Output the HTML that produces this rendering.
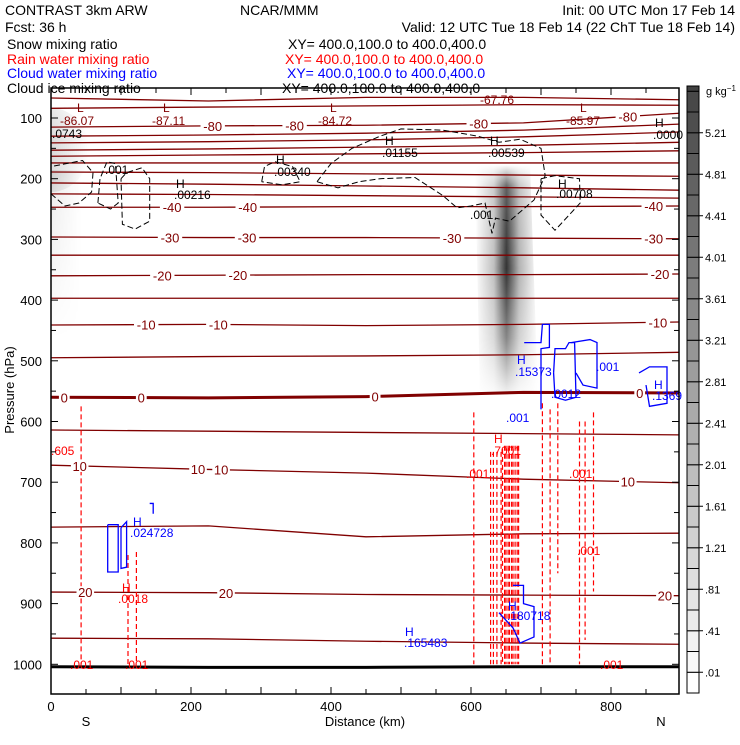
<!DOCTYPE html>
<html><head><meta charset="utf-8"><style>
body{margin:0;background:#fff;}
svg text{font-family:"Liberation Sans",sans-serif;}
</style></head><body>
<svg id="chart" width="740" height="740" viewBox="0 0 740 740" xmlns="http://www.w3.org/2000/svg">
<defs>
<linearGradient id="plumeH" x1="0" x2="1" y1="0" y2="0">
<stop offset="0" stop-color="#000" stop-opacity="0"/>
<stop offset="0.3" stop-color="#000" stop-opacity="0.25"/>
<stop offset="0.5" stop-color="#000" stop-opacity="0.8"/>
<stop offset="0.7" stop-color="#000" stop-opacity="0.3"/>
<stop offset="1" stop-color="#000" stop-opacity="0"/>
</linearGradient>
<linearGradient id="plumeV" x1="0" x2="0" y1="0" y2="1">
<stop offset="0" stop-color="#fff" stop-opacity="0"/>
<stop offset="0.1" stop-color="#fff" stop-opacity="0.8"/>
<stop offset="0.45" stop-color="#fff" stop-opacity="1"/>
<stop offset="0.75" stop-color="#fff" stop-opacity="0.6"/>
<stop offset="1" stop-color="#fff" stop-opacity="0.05"/>
</linearGradient>
<mask id="plumeMask"><rect x="0" y="165" width="740" height="230" fill="url(#plumeV)"/></mask>
<radialGradient id="leftBlob" cx="0" cy="0.5" r="1">
<stop offset="0" stop-color="#000" stop-opacity="0.6"/>
<stop offset="0.5" stop-color="#000" stop-opacity="0.15"/>
<stop offset="1" stop-color="#000" stop-opacity="0"/>
</radialGradient>
<linearGradient id="leftTail" x1="0" x2="1"><stop offset="0" stop-color="#000" stop-opacity="0.08"/><stop offset="1" stop-color="#000" stop-opacity="0"/></linearGradient>
<linearGradient id="leftTailV" x1="0" x2="0" y1="0" y2="1"><stop offset="0" stop-color="#fff" stop-opacity="1"/><stop offset="1" stop-color="#fff" stop-opacity="0"/></linearGradient>
<mask id="tailMask"><rect x="51" y="170" width="30" height="170" fill="url(#leftTailV)"/></mask>
<clipPath id="plotClip"><rect x="51" y="88" width="628" height="606"/></clipPath>
</defs>
<g id="header" font-size="14">
<text x="5" y="15">CONTRAST  3km ARW</text>
<text x="240" y="15">NCAR/MMM</text>
<text x="735" y="15" text-anchor="end">Init: 00 UTC Mon 17 Feb 14</text>
<text x="5" y="32">Fcst:   36 h</text>
<text x="735" y="32" text-anchor="end">Valid: 12 UTC Tue 18 Feb 14 (22 ChT Tue 18 Feb 14)</text>
<text x="7" y="49">Snow mixing ratio</text>
<text x="288" y="49">XY= 400.0,100.0 to 400.0,400.0</text>
<text x="7" y="64" fill="#ff0000">Rain water mixing ratio</text>
<text x="285" y="64" fill="#ff0000">XY= 400.0,100.0 to 400.0,400.0</text>
<text x="7" y="78" fill="#0000ff">Cloud water mixing ratio</text>
<text x="287" y="78" fill="#0000ff">XY= 400.0,100.0 to 400.0,400.0</text>
<text x="7" y="93">Cloud ice mixing ratio</text>
<text x="282" y="93">XY= 400.0,100.0 to 400.0,400.0</text>
</g>
<g id="shade" clip-path="url(#plotClip)">
<g mask="url(#plumeMask)"><polygon points="475,165 530,165 538,395 480,395" fill="url(#plumeH)"/></g>
<ellipse cx="51" cy="150" rx="38" ry="42" fill="url(#leftBlob)"/>
<g mask="url(#tailMask)"><rect x="51" y="170" width="30" height="170" fill="url(#leftTail)"/></g>
</g>
<g id="iso" clip-path="url(#plotClip)"></g>
<g id="cont" clip-path="url(#plotClip)"></g>
<g id="labels" font-size="12"></g>
<rect x="51" y="88" width="628" height="606" fill="none" stroke="#000" stroke-width="1.5"/>
<g id="axes" font-size="13"></g>
<g id="cbar"></g>
</svg>
<script>
// ---- data ----
const nodesKm = [0, 225, 450, 675, 900];
const isoLevels = ['a','b','c','d','e','f','g','h','i','j','k','-40','-30','y','-20','z','-10','w','0','5','10','15','20','25'];
const isoP = [
[67,72,66,66,70],[84,82,80,78,79],[115,113,112,108,92],[130,128,125,120,110],[141,139,136,131,123],
[153,151,148,145,140],[163,161,159,157,154],[174,174,174,174,174],[189,190,192,194,196],[207,209,212,215,219],
[225,226,228,230,232],[247,247,246,246,245],
[296,297,297,298,299],[326,326,326,326,326],[360,359,358,358,357],[397,397,397,397,397],
[441,440,442,440,436],[495,493,492,490,486],
[560,561,559,552,553],[614,616,618,620,622],[672,679,685,695,701],[774,772,790,785,784],[881,882,885,886,887],[957,958,962,965,967]];
const surfP = [1004, 1005, 1005, 1004, 1004];
const isoLabelText = ['-80','-80','-80','-80','-40','-40','-40','-30','-30','-30','-30','-20','-20','-20','-10','-10','-10','0','0','0','0','10','10','10','10','20','20','20'];
const isoLabelLine = [2,2,2,2,11,11,11,12,12,12,12,14,14,14,16,16,16,18,18,18,18,20,20,20,20,22,22,22];
const isoLabelKm =   [231,348,611,824,173,281,861,170,280,573,861,159,267,870,136,239,867,19,129,463,841,41,210,243,824,49,250,877];
const rainSegKm = [43,110,122,604,628,632,637,643,645,648,650,653,655,658,660,663,666,668,702,713,724,755,763,775];
const rainSegTop = [575,820,815,585,650,650,650,650,645,640,640,640,640,640,640,640,640,640,570,580,570,600,600,585];
const rainSegBot = [1000,1000,1000,1000,1000,1000,1000,1000,1000,1000,1000,1000,1000,1000,1000,1000,1000,1000,1000,1000,850,1000,960,880];
const cbarLabels = ['.01','.41','.81','1.21','1.61','2.01','2.41','2.81','3.21','3.61','4.01','4.41','4.81','5.21'];
const cbarValues = [0.01,0.21,0.41,0.61,0.81,1.01,1.21,1.41,1.61,1.81,2.01,2.21,2.41,2.61,2.81,3.01,3.21,3.41,3.61,3.81,4.01,4.21,4.41,4.61,4.81,5.01,5.21,5.41,5.61,5.81];
const xTicks = [0,200,400,600,800];
const pTicks = [100,200,300,400,500,600,700,800,900,1000];
// ---- axes functions ----
const X = km => 51 + km * 0.7;
const Y = p => 118 + (p - 100) * 0.607;
const NS = 'http://www.w3.org/2000/svg';
function mk(tag, attrs, parent) { const e = document.createElementNS(NS, tag); for (const k in attrs) e.setAttribute(k, attrs[k]); parent.appendChild(e); return e; }
function interp(arr, km) { for (let i = 0; i < nodesKm.length - 1; i++) { if (km <= nodesKm[i+1]) { const t = (km - nodesKm[i]) / (nodesKm[i+1] - nodesKm[i]); return arr[i] + t * (arr[i+1] - arr[i]); } } return arr[arr.length-1]; }
const iso = document.getElementById('iso');
isoP.forEach((row, i) => {
  const pts = nodesKm.map((k, j) => X(k) + ',' + Y(row[j])).join(' ');
  const l = mk('polyline', {points: pts, fill: 'none', stroke: '#800000', 'stroke-width': isoLevels[i] === '0' ? 3 : 1.3}, iso);
  
  
});
const surf = mk('polyline', {points: nodesKm.map((k, j) => X(k) + ',' + Y(surfP[j])).join(' '), fill: 'none', stroke: '#000', 'stroke-width': 3}, iso);


const labels = document.getElementById('labels');
isoLabelText.forEach((t, i) => {
  const x = X(isoLabelKm[i]), y = Y(interp(isoP[isoLabelLine[i]], isoLabelKm[i]));
  const w = t.length * 6.8;
  const bg = mk('rect', {x: x - w/2 - 2, y: y - 6, width: w + 4, height: 12, fill: '#fff'}, labels);
  
  
  const tx = mk('text', {x: x, y: y + 5, 'text-anchor': 'middle', fill: '#800000', 'font-size': 13}, labels);
  tx.textContent = t;
  
  
});
const cont = document.getElementById('cont');
rainSegKm.forEach((k, i) => {
  const l = mk('line', {x1: X(k), x2: X(k), y1: Y(rainSegTop[i]), y2: Y(rainSegBot[i]), stroke: '#ff0000', 'stroke-width': 1.2, 'stroke-dasharray': '5,3'}, cont);
  
  
});
const icePaths = [
 [[67,240],[70,200],[80,172],[92,175],[96,240],[85,250],[67,240]],
 [[100,200],[108,190],[130,182],[141,200],[141,270],[120,283],[102,275],[100,200]],
 [[301,205],[305,180],[320,172],[345,180],[356,205],[330,210],[301,205]],
 [[380,205],[400,175],[430,150],[470,130],[500,118],[560,120],[610,130],[640,140],[670,135],[700,150],[706,195],[690,235],[655,270],[635,265],[630,290],[620,240],[600,245],[580,248],[560,228],[520,198],[470,200],[440,205],[410,215],[380,205]],
 [[700,200],[720,195],[755,200],[756,240],[720,285],[700,260],[700,200]],
 [[0,225],[20,245],[40,240],[58,222],[60,190],[45,170],[0,180]]
];
icePaths.forEach((pth, i) => {
  const e = mk('polyline', {points: pth.map(q => X(q[0]) + ',' + Y(q[1])).join(' '), fill: 'none', stroke: '#000', 'stroke-width': 1, 'stroke-dasharray': '6,3'}, cont);
  
  
});
const cwPaths = [
 [[81,770],[96,770],[96,848],[81,848],[81,770]],
 [[100,775],[108,765],[108,840],[100,842],[100,775]],
 [[141,735],[146,735],[146,752]],
 [[676,470],[700,470],[702,440],[712,440],[712,478],[700,480],[700,580]],
 [[718,520],[720,480],[735,480],[740,470],[748,470],[750,560],[735,565],[720,560],[718,520]],
 [[743,470],[770,465],[780,470],[780,545],[760,540],[750,520]],
 [[840,520],[855,510],[880,510],[880,570],[855,575],[850,540]],
 [[660,870],[675,870],[675,900],[690,905],[690,955],[670,965],[660,940],[640,915]]
];
cwPaths.forEach((pth, i) => {
  const e = mk('polyline', {points: pth.map(q => X(q[0]) + ',' + Y(q[1])).join(' '), fill: 'none', stroke: '#0000ff', 'stroke-width': 1.3}, cont);
  
  
});
const ann = [['L',77,112,'#800000'],['L',163,112,'#800000'],['L',330,112,'#800000'],['L',580,112,'#800000'],
 ['-86.07',60,125,'#800000'],['-87.11',72+80,125,'#800000'],['-84.72',318,125,'#800000'],['-85.97',566,125,'#800000'],['-67.76',480,104,'#800000'],
 ['H',385,145,'#000'],['.01155',382,157,'#000'],['H',490,145,'#000'],['.00539',488,157,'#000'],['H',655,127,'#000'],['.0000',653,139,'#000'],
 ['.0743',52,138,'#000'],['.001',105,174,'#000'],['H',176,188,'#000'],['.00216',174,199,'#000'],['H',276,164,'#000'],['.00340',274,176,'#000'],
 ['.001',470,219,'#000'],['H',558,188,'#000'],['.00708',556,198,'#000'],
 ['H',517,364,'#0000ff'],['.15373',515,376,'#0000ff'],['.001',596,371,'#0000ff'],['.0012',551,398,'#0000ff'],['.001',506,422,'#0000ff'],['H',654,389,'#0000ff'],['.1369',652,400,'#0000ff'],
 ['H',494,443,'#ff0000'],['.7001',491,455,'#ff0000'],['.001',466,478,'#ff0000'],['.001',569,478,'#ff0000'],['.001',577,555,'#ff0000'],['.605',51,455,'#ff0000'],
 ['H',133,526,'#0000ff'],['.024728',130,537,'#0000ff'],['H',122,592,'#ff0000'],['.0018',118,603,'#ff0000'],['.001',70,669,'#ff0000'],['.001',125,669,'#ff0000'],['.001',600,669,'#ff0000'],
 ['H',508,610,'#0000ff'],['.180718',507,620,'#0000ff'],['H',405,636,'#0000ff'],['.165483',404,647,'#0000ff']];
ann.forEach(a => {
  const t = mk('text', {x: a[1], y: a[2], fill: a[3], 'font-size': 12}, labels);
  t.textContent = a[0];
  
  
});
const axes = document.getElementById('axes');
xTicks.forEach(v => {
  const t = mk('text', {x: X(v), y: 711, 'text-anchor': 'middle'}, axes);
  t.textContent = v;
  
  
});
for (let k = 50; k < 900; k += 50) {
  const h = k % 100 === 0 ? 7 : 5;
  const a = mk('line', {x1: X(k), x2: X(k), y1: 694, y2: 694 - h, stroke: '#000'}, axes);
  
  
  const b = mk('line', {x1: X(k), x2: X(k), y1: 88, y2: 88 + h, stroke: '#000'}, axes);
  
  
}
pTicks.forEach(v => {
  const t = mk('text', {x: 42, y: Y(v) + 5, 'text-anchor': 'end'}, axes);
  t.textContent = v;
  
  
});
for (let p = 50; p <= 1050; p += 50) {
  if (Y(p) < 88 || Y(p) > 694) continue;
  const h = p % 100 === 0 ? 7 : 5;
  const a = mk('line', {x1: 51, x2: 51 + h, y1: Y(p), y2: Y(p), stroke: '#000'}, axes);
  
  
  const b = mk('line', {x1: 679, x2: 679 - h, y1: Y(p), y2: Y(p), stroke: '#000'}, axes);
  
  
}
[['S',86,726,'x-south-label'],['N',661,726,'x-north-label'],['Distance (km)',365,726,'x-axis-title']].forEach(a => {
  const t = mk('text', {x: a[1], y: a[2], 'text-anchor': 'middle'}, axes);
  t.textContent = a[0];
  
  
});
const yt = mk('text', {x: 14, y: 390, 'text-anchor': 'middle', transform: 'rotate(-90 14 390)'}, axes);
yt.textContent = 'Pressure (hPa)';


const cb = document.getElementById('cbar');
const vmax = 5.81, bh = 20.75;
cbarValues.forEach((v, i) => {
  const y1 = 693 - (i + 1) * bh;
  const top = Math.max(y1, 86);
  const g = Math.round(255 - (v / vmax) * 190);
  const r = mk('rect', {x: 687, y: top, width: 12, height: 693 - i * bh - top, fill: `rgb(${g},${g},${g})`, stroke: '#000', 'stroke-width': 1}, cb);
  
  
});
cbarLabels.forEach((t, i) => {
  const y = 693 - (2 * i + 1) * bh;
  const tk = mk('line', {x1: 699, x2: 703, y1: y, y2: y, stroke: '#000'}, cb);
  
  
  const tx = mk('text', {x: 705, y: y + 4, 'font-size': 11}, cb);
  tx.textContent = t;
  
  
});
const unit = mk('text', {x: 706, y: 95, 'font-size': 11}, cb);
unit.innerHTML = 'g kg<tspan dy="-4" font-size="8">−1</tspan>';


</script>
</body></html>
